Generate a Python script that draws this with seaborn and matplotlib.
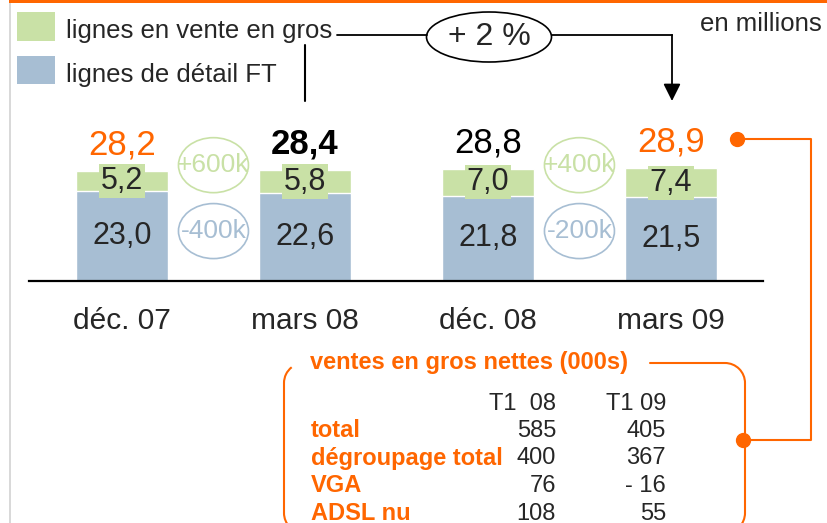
import matplotlib.pyplot as plt
import matplotlib.patches as mpatches
import pandas as pd
import seaborn as sns

# chart values
periods = ["déc. 07", "mars 08", "déc. 08", "mars 09"]
detail_ft = [23.0, 22.6, 21.8, 21.5]
wholesale = [5.2, 5.8, 7.0, 7.4]
totals = [28.2, 28.4, 28.8, 28.9]
total_colors = ["#ff6600", "black", "black", "#ff6600"]
total_weights = ["normal", "bold", "normal", "normal"]
wholesale_delta = ["+600k", "+400k"]
detail_delta = ["-400k", "-200k"]
growth_label = "+ 2 %"

table_title = "ventes en gros nettes (000s)"
table_headers = ["T1  08", "T1 09"]
table_rows = ["total", "dégroupage total", "VGA", "ADSL nu"]
t1_08 = ["585", "400", "76", "108"]
t1_09 = ["405", "367", "- 16", "55"]

GREEN = "#c9e1a6"
BLUE = "#a7bed3"
ORANGE = "#ff6600"
W, H = 828, 523


def fmt(v):
    return f"{v:.1f}".replace(".", ",")


df = pd.DataFrame({"period": periods, "detail": detail_ft,
                   "wholesale": wholesale, "total": totals})

sns.set_style("white")
plt.rcParams["font.family"] = ["Liberation Sans", "DejaVu Sans"]

fig = plt.figure(figsize=(W / 100, H / 100), dpi=100)

# main bar axes: baseline at y=281 px, 3.9 px per million
ax = fig.add_axes([29 / W, (H - 281) / H, (763 - 29) / W, 281 / H])
sns.barplot(data=df, x="period", y="total", color=GREEN, saturation=1,
            width=0.5, ax=ax)
sns.barplot(data=df, x="period", y="detail", color=BLUE, saturation=1,
            width=0.5, ax=ax)
ax.set_xlim(-0.508, 3.503)
ax.set_ylim(0, 281 / 3.9)
ax.set_xlabel("")
ax.set_ylabel("")
ax.set_yticks([])
for s in ["top", "left", "right"]:
    ax.spines[s].set_visible(False)
ax.spines["bottom"].set_color("black")
ax.spines["bottom"].set_linewidth(1.6)
ax.tick_params(axis="x", length=0, pad=19, labelsize=21.5)
ax.patch.set_alpha(0)

for i in range(len(periods)):
    ax.text(i, detail_ft[i] / 2, fmt(detail_ft[i]), ha="center",
            va="center", fontsize=22)
    ax.text(i, detail_ft[i] + wholesale[i] / 2, fmt(wholesale[i]),
            ha="center", va="center", fontsize=22,
            bbox=dict(facecolor=GREEN, edgecolor="none", pad=1.5))
    ax.annotate(fmt(totals[i]), (i, totals[i]), xytext=(0, 12),
                textcoords="offset points", ha="center", va="baseline",
                fontsize=25, color=total_colors[i],
                fontweight=total_weights[i])

# change bubbles between each pair of bars
for k, pos in enumerate([0.5, 2.5]):
    for lab, yc, col in [(wholesale_delta[k], 29.7, GREEN),
                         (detail_delta[k], 12.8, BLUE)]:
        ax.add_patch(mpatches.Ellipse((pos, yc), 70 / 183, 55 / 3.9,
                                      facecolor="none", edgecolor=col,
                                      lw=1.2))
        ax.text(pos, yc, lab, ha="center", va="center", fontsize=19,
                color=col)

# overlay in pixel coordinates for the decorations
ov = fig.add_axes([0, 0, 1, 1])
ov.set_xlim(0, W)
ov.set_ylim(H, 0)
ov.axis("off")
ov.patch.set_alpha(0)

ov.add_patch(mpatches.Rectangle((9, 0), 2.5, H, color="#d9d9d9", lw=0))
ov.add_patch(mpatches.Rectangle((9, 0), W - 9, 3, color=ORANGE, lw=0))

# legend
ov.add_patch(mpatches.Rectangle((17, 12), 38, 29, color=GREEN, lw=0))
ov.add_patch(mpatches.Rectangle((17, 56), 38, 28, color=BLUE, lw=0))
ov.text(66, 38, "lignes en vente en gros", fontsize=18.5, va="baseline")
ov.text(66, 82, "lignes de détail FT", fontsize=18.5, va="baseline")
ov.text(822, 31, "en millions", fontsize=18.5, va="baseline", ha="right")

# growth bracket
ov.plot([337, 427], [35, 35], color="black", lw=1.3)
ov.plot([305, 305], [45, 101], color="black", lw=1.5)
ov.plot([552, 672], [35, 35], color="black", lw=1.3,
        solid_capstyle="projecting")
ov.annotate("", xy=(672, 101), xytext=(672, 35),
            arrowprops=dict(arrowstyle="-|>", color="black", lw=1.3,
                            mutation_scale=26, shrinkA=0, shrinkB=0))
ov.add_patch(mpatches.Ellipse((489, 37), 125, 50, facecolor="white",
                              edgecolor="black", lw=1.2))
ov.text(489, 37, growth_label, ha="center", va="center", fontsize=23)

# orange connector to the table
ov.plot([737, 811, 811, 743], [139, 139, 440, 440], color=ORANGE, lw=1.5)
ov.plot([737, 743], [139, 440], "o", color=ORANGE, ms=10)

# rounded box around the table
r = 20
L, R, T, B = 284, 745, 363, 533
ov.plot([650, R - r], [T, T], color=ORANGE, lw=1.5)
ov.add_patch(mpatches.Arc((R - r, T + r), 2 * r, 2 * r, theta1=270,
                          theta2=360, color=ORANGE, lw=1.5))
ov.plot([R, R], [T + r, B - r], color=ORANGE, lw=1.5)
ov.plot([L, L], [T + r, B - r], color=ORANGE, lw=1.5)
ov.add_patch(mpatches.Arc((L + r, T + r), 2 * r, 2 * r, theta1=180,
                          theta2=232, color=ORANGE, lw=1.5))
ov.add_patch(mpatches.Arc((L + r, B - r), 2 * r, 2 * r, theta1=90,
                          theta2=180, color=ORANGE, lw=1.5))
ov.add_patch(mpatches.Arc((R - r, B - r), 2 * r, 2 * r, theta1=0,
                          theta2=90, color=ORANGE, lw=1.5))

ov.text(310, 369, table_title, fontsize=17, fontweight="bold",
        color=ORANGE, va="baseline")
ov.text(556, 410, table_headers[0], fontsize=17, ha="right", va="baseline")
ov.text(666, 410, table_headers[1], fontsize=17, ha="right", va="baseline")
for j, row in enumerate(table_rows):
    yb = 437 + j * 27.5
    ov.text(311, yb, row, fontsize=17, fontweight="bold", color=ORANGE,
            va="baseline")
    ov.text(556, yb, t1_08[j], fontsize=17, ha="right", va="baseline")
    ov.text(666, yb, t1_09[j], fontsize=17, ha="right", va="baseline")

fig.savefig("out.png", dpi=100)
